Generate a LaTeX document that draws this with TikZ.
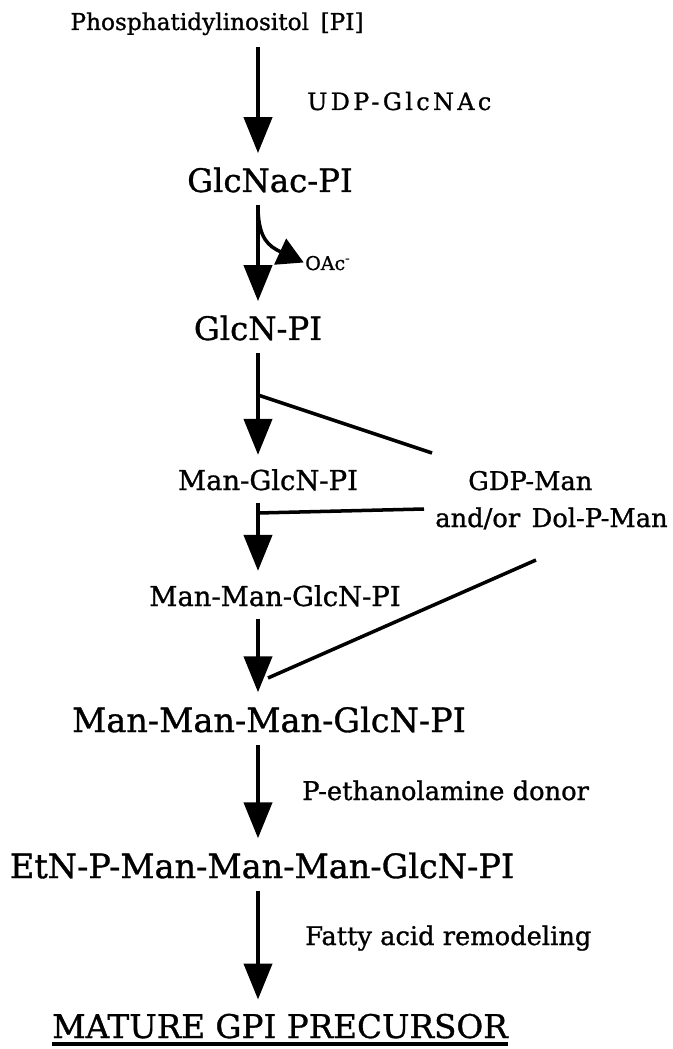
\documentclass[tikz,border=0pt]{standalone}
\usepackage{fontspec}
\setmainfont{DejaVu Serif}
\usepackage{tikz}
\usetikzlibrary{arrows.meta, calc}
\newcommand{\chemfont}[2]{\fontsize{#1}{#1}\selectfont\addfontfeature{LetterSpace=#2, FakeBold=1}}
\tikzstyle{bigcpd} = [anchor=base, inner sep=0pt, font=\chemfont{23.8}{0}]
\tikzstyle{cpd} = [anchor=base, inner sep=0pt, font=\chemfont{23}{0}]
\tikzstyle{smallcpd} = [anchor=base, inner sep=0pt, font=\chemfont{19.5}{0}]
\tikzstyle{reagent} = [anchor=base west, inner sep=0pt, font=\chemfont{18.3}{0}]
\tikzstyle{arrow} = [line width=3pt, -{Triangle[length=0.9cm, width=0.7cm]}, shorten <=0.3cm, shorten >=0.35cm]
\tikzstyle{branch} = [line width=2.5pt]

\begin{document}
\begin{tikzpicture}[x=0.025cm, y=-0.025cm]
    \useasboundingbox (0,0) rectangle (672,1049);
    \coordinate (spine) at (258,0);

    \node (pi) [cpd, font=\chemfont{16.5}{0}] at (217,30) {Phosphatidylinositol\hspace{0.5em}[PI]};
    \node (glcnac) [cpd] at (270,192) {GlcNac-PI};
    \node (glcn) [cpd] at (258,340) {GlcN-PI};
    \node (mangl) [smallcpd] at (268,490) {Man-GlcN-PI};
    \node (manman) [smallcpd] at (275,606) {Man-Man-GlcN-PI};
    \node (man3) [bigcpd] at (269,732) {Man-Man-Man-GlcN-PI};
    \node (etn) [bigcpd] at (262,878) {EtN-P-Man-Man-Man-GlcN-PI};
    \node (mature) [bigcpd, font=\chemfont{23.2}{0}] at (280,1038) {MATURE GPI PRECURSOR};

    % donors and side products
    \node (udp) [reagent, font=\chemfont{17}{14}] at (307,110) {UDP-GlcNAc};
    \node (oac) [reagent, font=\chemfont{13.5}{0}] at (305,270) {OAc\textsuperscript{-}};
    \node (gdp) [reagent] at (468,490) {GDP-Man};
    \node (dol) [reagent] at (435,527) {and/or\hspace{0.45em}Dol-P-Man};
    \node (peth) [reagent] at (302,800) {P-ethanolamine donor};
    \node (fatty) [reagent] at (305,945) {Fatty acid remodeling};

    \draw [arrow] (pi.south -| spine) -- (glcnac.north -| spine);
    \draw [arrow] (glcnac.south -| spine) -- (glcn.north -| spine);
    \draw [arrow] (glcn.south -| spine) -- (mangl.north -| spine);
    \draw [arrow] (mangl.south -| spine) -- (manman.north -| spine);
    \draw [arrow] (manman.south -| spine) -- (man3.north -| spine);
    \draw [arrow] (man3.south -| spine) -- (etn.north -| spine);
    \draw [arrow] (etn.south -| spine) -- (mature.north -| spine);

    % acetate leaving
    \coordinate (j0) at (258,210);
    \draw [line width=2.5pt, -{Triangle[length=0.65cm, width=0.7cm]}, shorten >=1pt]
        (j0) .. controls (259,238) and (268,246) .. (oac.west);

    % mannose donors
    \coordinate (j1) at (258,395);
    \coordinate (d1) at (432,453);
    \coordinate (j2) at (258,513);
    \coordinate (d2) at (424,509);
    \coordinate (d3) at (536,560);
    \coordinate (j3) at (268,678);
    \draw [branch] (j1) -- (d1);
    \draw [branch] (j2) -- (d2);
    \draw [branch] (d3) -- (j3);

    \draw [line width=2.2pt] ([yshift=-0.15cm]mature.base west) -- ([yshift=-0.15cm]mature.base east);
\end{tikzpicture}
\end{document}
